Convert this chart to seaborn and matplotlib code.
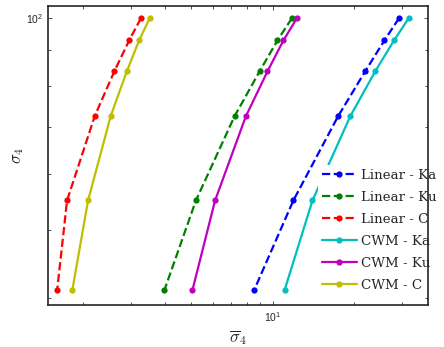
import numpy as np
import pandas as pd
import matplotlib
matplotlib.use("Agg")
import matplotlib.pyplot as plt
import seaborn as sns

# sigma_4 levels (shared by every series)
sigma4 = [100, 93, 84, 72.5, 55, 41]

# mean sigma_4 per model / band
lin_ka = [29.2, 25.8, 21.9, 17.4, 11.9, 8.53]
lin_ku = [11.75, 10.4, 8.93, 7.22, 5.20, 3.98]
lin_c = [3.26, 2.95, 2.60, 2.20, 1.74, 1.60]
cwm_ka = [31.7, 28.0, 23.85, 19.3, 14.0, 11.05]
cwm_ku = [12.26, 10.94, 9.55, 7.95, 6.12, 5.05]
cwm_c = [3.51, 3.21, 2.89, 2.52, 2.08, 1.82]

labels = ["Linear - Ka", "Linear - Ku", "Linear - C", "CWM - Ka", "CWM - Ku", "CWM - C"]
series = [lin_ka, lin_ku, lin_c, cwm_ka, cwm_ku, cwm_c]
colors = [(0, 0, 1), (0, 0.5, 0), (1, 0, 0), (0, 0.75, 0.75), (0.75, 0, 0.75), (0.75, 0.75, 0)]
styles = ["--", "--", "--", "-", "-", "-"]

sns.set_style("ticks")
plt.rcParams["font.family"] = ["Liberation Sans", "DejaVu Sans"]
plt.rcParams["axes.formatter.use_mathtext"] = True

fig = plt.figure(figsize=(4.44, 3.47), dpi=100)
ax = fig.add_axes([48 / 444, 1 - 305.3 / 347, (427.5 - 48) / 444, (305.3 - 5.7) / 347])

for lab, xs, col, ls in zip(labels, series, colors, styles):
    df = pd.DataFrame({"x": xs, "y": sigma4})
    sns.lineplot(data=df, x="x", y="y", ax=ax, sort=False, estimator=None,
                 color=col, linestyle=ls, linewidth=1.6, marker="o",
                 markersize=4.5, markeredgewidth=0, label=lab)

ax.set_xscale("log")
ax.set_yscale("log")
ax.set_xlim(1.48, 37.2)
ax.set_ylim(39, 104.2)

ax.tick_params(which="both", direction="in", top=True, right=True,
               labelsize=7.5, width=0.6, color="#333333")
ax.tick_params(which="major", length=3)
ax.tick_params(which="minor", length=2)
ax.yaxis.set_minor_formatter(matplotlib.ticker.NullFormatter())
ax.xaxis.set_minor_formatter(matplotlib.ticker.NullFormatter())
for s in ax.spines.values():
    s.set_linewidth(1.2)
    s.set_zorder(10)

ax.set_xlabel(r"$\overline{\sigma}_4$", fontsize=12, labelpad=3, math_fontfamily="cm")
ax.set_ylabel(r"$\sigma_4$", fontsize=12, labelpad=0, math_fontfamily="cm")

leg = ax.legend(loc="upper left", bbox_to_anchor=(318 / 444, 1 - 165 / 347),
                bbox_transform=fig.transFigure, frameon=True, fancybox=False,
                edgecolor="none", facecolor="white", framealpha=1,
                prop={"family": "DejaVu Serif", "size": 9.6}, handlelength=2.6,
                handletextpad=0.35, labelspacing=0.67, borderpad=0.3,
                borderaxespad=0)
leg.set_zorder(5)

fig.savefig("out.png", dpi=100)
